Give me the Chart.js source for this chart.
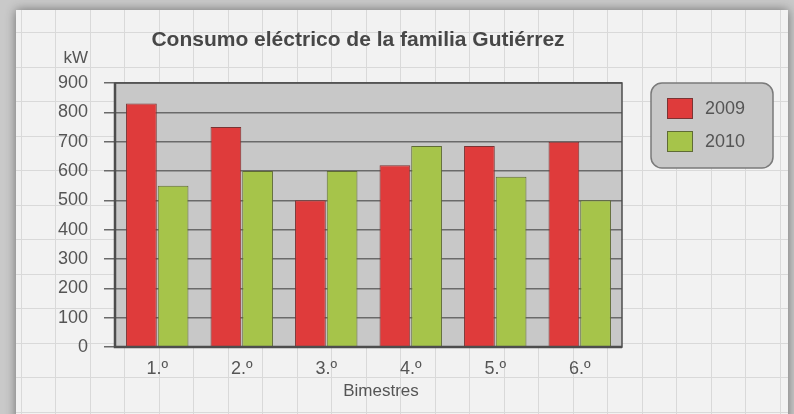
<!DOCTYPE html>
<html>
<head>
<meta charset="utf-8">
<script src="https://cdn.jsdelivr.net/npm/chart.js@4"></script>
<style>
  html, body { margin: 0; padding: 0; background: #c4c4c4; }
  #wrap { width: 794px; height: 414px; }
</style>
</head>
<body>
<div id="wrap"><canvas id="chart" width="794" height="414"></canvas></div>
<script>
// Data
const bimestres = ["1.º", "2.º", "3.º", "4.º", "5.º", "6.º"];
const consumo2009 = [830, 750, 500, 620, 685, 700];
const consumo2010 = [550, 600, 600, 685, 580, 500];
const yTicks = [0, 100, 200, 300, 400, 500, 600, 700, 800, 900];

const FONT = "'Liberation Sans', Arial, sans-serif";
const TEXT = "#555";

// Grid paper + plot background
const paperPlugin = {
    id: "paper",
    beforeDraw(chart) {
        const ctx = chart.ctx;
        const W = chart.width, H = chart.height;
        ctx.save();
        ctx.fillStyle = "#c9c9c9";
        ctx.fillRect(0, 0, W, H);
        // paper with shadow
        ctx.shadowColor = "rgba(0,0,0,0.45)";
        ctx.shadowBlur = 10;
        ctx.fillStyle = "#f2f2f2";
        ctx.fillRect(16, 10, W - 22, H);
        ctx.shadowBlur = 0;
        ctx.shadowColor = "transparent";
        // squares
        ctx.strokeStyle = "#d9d9d9";
        ctx.lineWidth = 1;
        ctx.beginPath();
        for (let x = 20.5; x < W - 6; x += 34.5) {
            ctx.moveTo(Math.round(x) + 0.5, 10);
            ctx.lineTo(Math.round(x) + 0.5, H);
        }
        for (let y = 32; y < H; y += 34.5) {
            ctx.moveTo(16, Math.round(y) + 0.5);
            ctx.lineTo(W - 6, Math.round(y) + 0.5);
        }
        ctx.stroke();
        // plot area
        const a = chart.chartArea;
        ctx.fillStyle = "#c8c8c8";
        ctx.fillRect(a.left, a.top, a.right - a.left, a.bottom - a.top);
        ctx.restore();
    },
    afterDraw(chart) {
        const ctx = chart.ctx;
        const a = chart.chartArea;
        ctx.save();
        // frame of plot
        ctx.strokeStyle = "#4d4d4d";
        ctx.lineWidth = 1.5;
        ctx.strokeRect(a.left, a.top, a.right - a.left, a.bottom - a.top);
        ctx.lineWidth = 2.5;
        ctx.beginPath();
        ctx.moveTo(a.left, a.top);
        ctx.lineTo(a.left, a.bottom);
        ctx.lineTo(a.right, a.bottom);
        ctx.stroke();

        // titles
        ctx.fillStyle = "#474747";
        ctx.font = "bold 21px " + FONT;
        ctx.textAlign = "center";
        ctx.textBaseline = "middle";
        ctx.fillText("Consumo eléctrico de la familia Gutiérrez", 358, 40);
        ctx.fillStyle = TEXT;
        ctx.font = "17px " + FONT;
        ctx.textAlign = "right";
        ctx.fillText("kW", 88, 58);
        ctx.textAlign = "center";
        ctx.fillText("Bimestres", 381, 391);

        // legend box
        const lx = 651, ly = 83, lw = 122, lh = 85;
        ctx.fillStyle = "#c8c8c8";
        ctx.strokeStyle = "#7a7a7a";
        ctx.lineWidth = 1.5;
        ctx.beginPath();
        ctx.roundRect(lx, ly, lw, lh, 11);
        ctx.fill();
        ctx.stroke();
        chart.data.datasets.forEach((ds, i) => {
            const y = ly + 15 + i * 33;
            ctx.fillStyle = ds.backgroundColor;
            ctx.strokeStyle = ds.borderColor;
            ctx.lineWidth = 1;
            ctx.fillRect(lx + 16, y, 26, 21);
            ctx.strokeRect(lx + 16.5, y + 0.5, 25, 20);
            ctx.fillStyle = TEXT;
            ctx.font = "18px " + FONT;
            ctx.textAlign = "left";
            ctx.fillText(ds.label, lx + 54, y + 11);
        });
        ctx.restore();
    }
};

new Chart(document.getElementById("chart"), {
    type: "bar",
    data: {
        labels: bimestres,
        datasets: [
            {
                label: "2009",
                data: consumo2009,
                backgroundColor: "#df3b3b",
                borderColor: "#7a3434",
                borderWidth: 1,
            },
            {
                label: "2010",
                data: consumo2010,
                backgroundColor: "#a6c44a",
                borderColor: "#5f6b35",
                borderWidth: 1,
            },
        ],
    },
    options: {
        responsive: false,
        animation: false,
        layout: { padding: { top: 83, right: 172, left: 0, bottom: 0 } },
        plugins: {
            legend: { display: false },
            tooltip: { enabled: false },
        },
        datasets: {
            bar: { barPercentage: 0.97, categoryPercentage: 0.75 },
        },
        scales: {
            x: {
                afterFit: (scale) => { scale.height = 67; },
                grid: { display: false },
                border: { display: false },
                ticks: {
                    color: TEXT,
                    font: { family: FONT, size: 18 },
                    padding: 3,
                },
            },
            y: {
                min: 0,
                max: 900,
                afterFit: (scale) => { scale.width = 115; },
                afterBuildTicks: (scale) => { scale.ticks = yTicks.map((v) => ({ value: v })); },
                grid: {
                    color: "#6a6a6a",
                    lineWidth: 1.5,
                    tickLength: 11,
                },
                border: { display: false },
                ticks: {
                    color: TEXT,
                    font: { family: FONT, size: 18 },
                    padding: 16,
                },
            },
        },
    },
    plugins: [paperPlugin],
});
</script>
</body>
</html>
